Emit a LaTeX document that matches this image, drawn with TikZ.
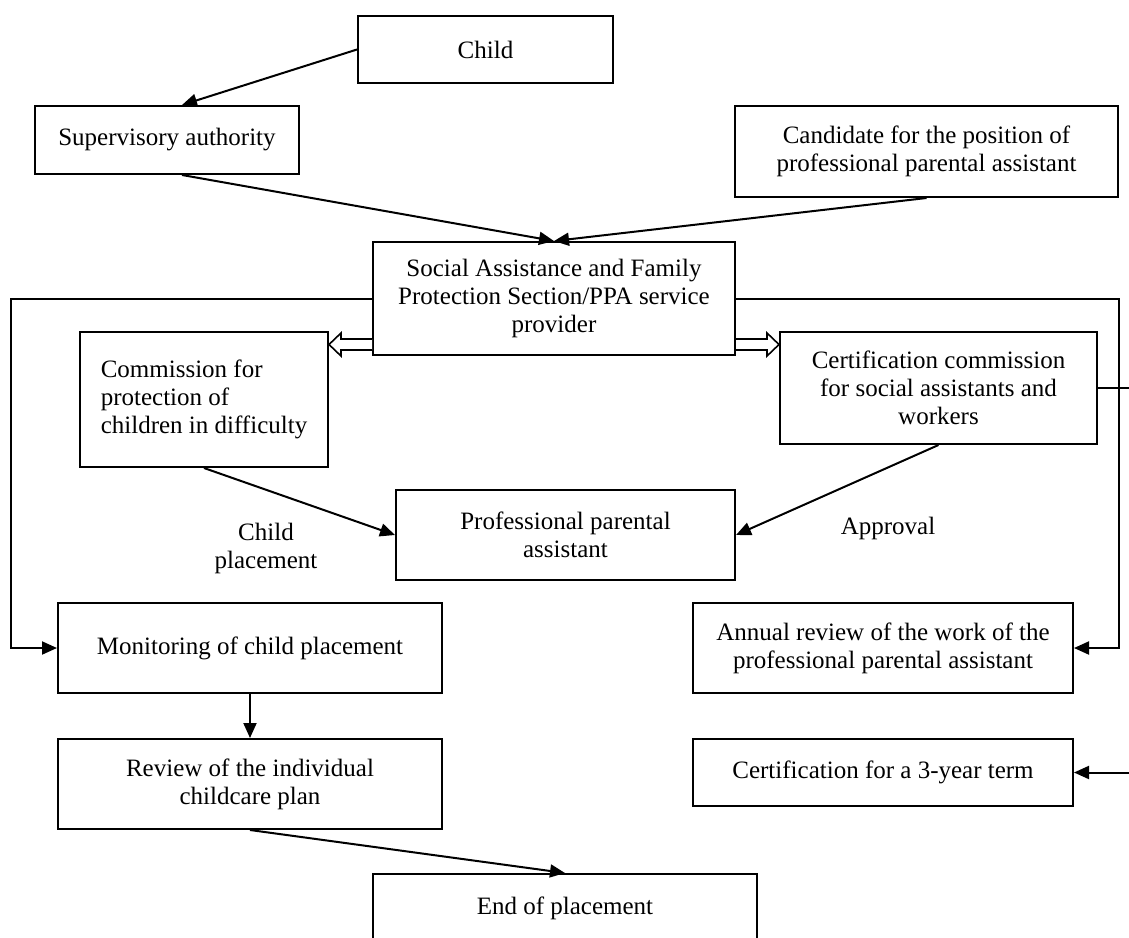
\documentclass[tikz,border=0pt]{standalone}
\usepackage{fontspec}
\setmainfont{Liberation Serif}
\usetikzlibrary{arrows.meta,calc}
\tikzset{box/.style={draw,line width=1pt,inner sep=2pt,align=center,
    font=\fontsize{12.5}{14}\selectfont}}
\tikzset{arr/.style={line width=1pt,
    -{Triangle[length=7.5pt,width=6.5pt]}}}
\tikzset{pipe/.style={line width=0.8pt,fill=white}}
\tikzset{lbl/.style={align=center,font=\fontsize{12.5}{14}\selectfont}}

\begin{document}
\begin{tikzpicture}[x=0.5pt,y=-0.5pt]

\useasboundingbox (0,0) rectangle (1129,937);
\clip (0,0) rectangle (1129,937);

%   upper part
\node[box,minimum width=127.5pt,minimum height=33.5pt] (child) at (485.5,49.5) {Child};
\node[box,minimum width=132pt,minimum height=34pt] (sup) at (167,140) {Supervisory authority};
\node[box,minimum width=191.5pt,minimum height=45.5pt] (cand) at (926.5,151.5)
    {Candidate for the position of\\professional parental assistant};
\node[box,minimum width=181pt,minimum height=56.5pt] (sas) at (554,298.5)
    {Social Assistance and Family\\Protection Section/PPA service\\provider};

%   commissions
\node[box,align=left,minimum width=124pt,minimum height=67.5pt] (com) at (204,399.5)
    {Commission for\\protection of\\children in difficulty};
\node[box,minimum width=158.5pt,minimum height=56pt] (cert) at (938.5,388)
    {Certification commission\\for social assistants and\\workers};
\node[box,minimum width=169.5pt,minimum height=45pt] (ppa) at (565.5,535)
    {Professional parental\\assistant};

%   lower part
\node[box,minimum width=192pt,minimum height=45pt] (mon) at (250,648)
    {Monitoring of child placement};
\node[box,minimum width=192pt,minimum height=45pt] (rev) at (250,784)
    {Review of the individual\\childcare plan};
\node[box,minimum width=190pt,minimum height=45pt] (ann) at (883,648)
    {Annual review of the work of the\\professional parental assistant};
\node[box,minimum width=190pt,minimum height=33.5pt] (term) at (883,772.5)
    {Certification for a 3-year term};
\node[box,minimum width=192pt,minimum height=34pt] (endp) at (565,908)
    {End of placement};

%   labels
\node[lbl] (lplace) at (266,548) {Child\\placement};
\node[lbl] (lappr) at (888,528) {Approval};

%   arrows
\draw[arr] (child.west) -- ($(sup.north)+(15,0)$);
\draw[arr] ($(sup.south)+(15,0)$) -- (sas.north);
\draw[arr] (cand.south) -- (sas.north);
\draw[arr] (sas.west) -- ++(-361,0) |- (mon.west);
\draw[arr] (sas.east) -- ++(383,0) |- (ann.east);
\draw[arr] (com.south) -- (ppa.west);
\draw[arr] (cert.south) -- (ppa.east);
\draw[arr] (mon.south) -- (rev.north);
\draw[arr] (rev.south) -- (endp.north);
\draw[arr] (cert.east) -- ++(50,0) |- (term.east);

%   hollow arrows
\draw[pipe] ($(sas.south west)+(0,-6)$) -- ($(com.east|-sas.south)+(12,-6)$)
    -- ++(0,6) -- ($(com.east|-sas.south)+(0,-11.5)$)
    -- ($(com.east|-sas.south)+(12,-23)$) -- ++(0,6)
    -- ($(sas.south west)+(0,-17)$);
\draw[pipe] ($(sas.south east)+(0,-6)$) -- ($(cert.west|-sas.south)+(-12,-6)$)
    -- ++(0,6) -- ($(cert.west|-sas.south)+(0,-11.5)$)
    -- ($(cert.west|-sas.south)+(-12,-23)$) -- ++(0,6)
    -- ($(sas.south east)+(0,-17)$);

\end{tikzpicture}
\end{document}
